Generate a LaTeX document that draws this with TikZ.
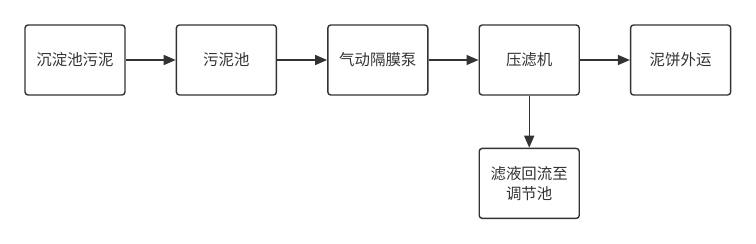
\documentclass[tikz,border=0pt]{standalone}
\usepackage{fontspec}
\usepackage{xcolor}
\usetikzlibrary{positioning,arrows.meta}
\newfontfamily\cjk{Noto Sans CJK SC}
\definecolor{ink}{HTML}{333333}
\tikzset{
  every node/.style={font=\cjk\fontsize{15.5}{19.5}\selectfont, text=ink},
  stagebox/.style={rectangle, rounded corners=3bp, draw=ink, line width=1.4bp,
    minimum width=100bp, minimum height=70bp, align=center, inner sep=2bp},
  flow/.style={draw=ink, line width=1.4bp, -{Triangle[length=12bp,width=10bp]}}
}

\begin{document}
\begin{tikzpicture}[x=1bp,y=1bp]

\useasboundingbox (0,0) rectangle (756,243);

% main line
\node[stagebox] (sludge) at (75,183) {沉淀池污泥};
\node[stagebox, right=50bp of sludge] (pool)  {污泥池};
\node[stagebox, right=50bp of pool]   (pump)  {气动隔膜泵};
\node[stagebox, right=50bp of pump]   (press) {压滤机};
\node[stagebox, right=50bp of press]  (cake)  {泥饼外运};

% filtrate branch
\node[stagebox, below=52bp of press] (filtrate) {滤液回流至\\调节池};

% connectors
\draw[flow] (sludge) -- (pool);
\draw[flow] (pool) -- (pump);
\draw[flow] (pump) -- (press);
\draw[flow] (press) -- (cake);
\draw[flow] (press) -- (filtrate);

\end{tikzpicture}
\end{document}
